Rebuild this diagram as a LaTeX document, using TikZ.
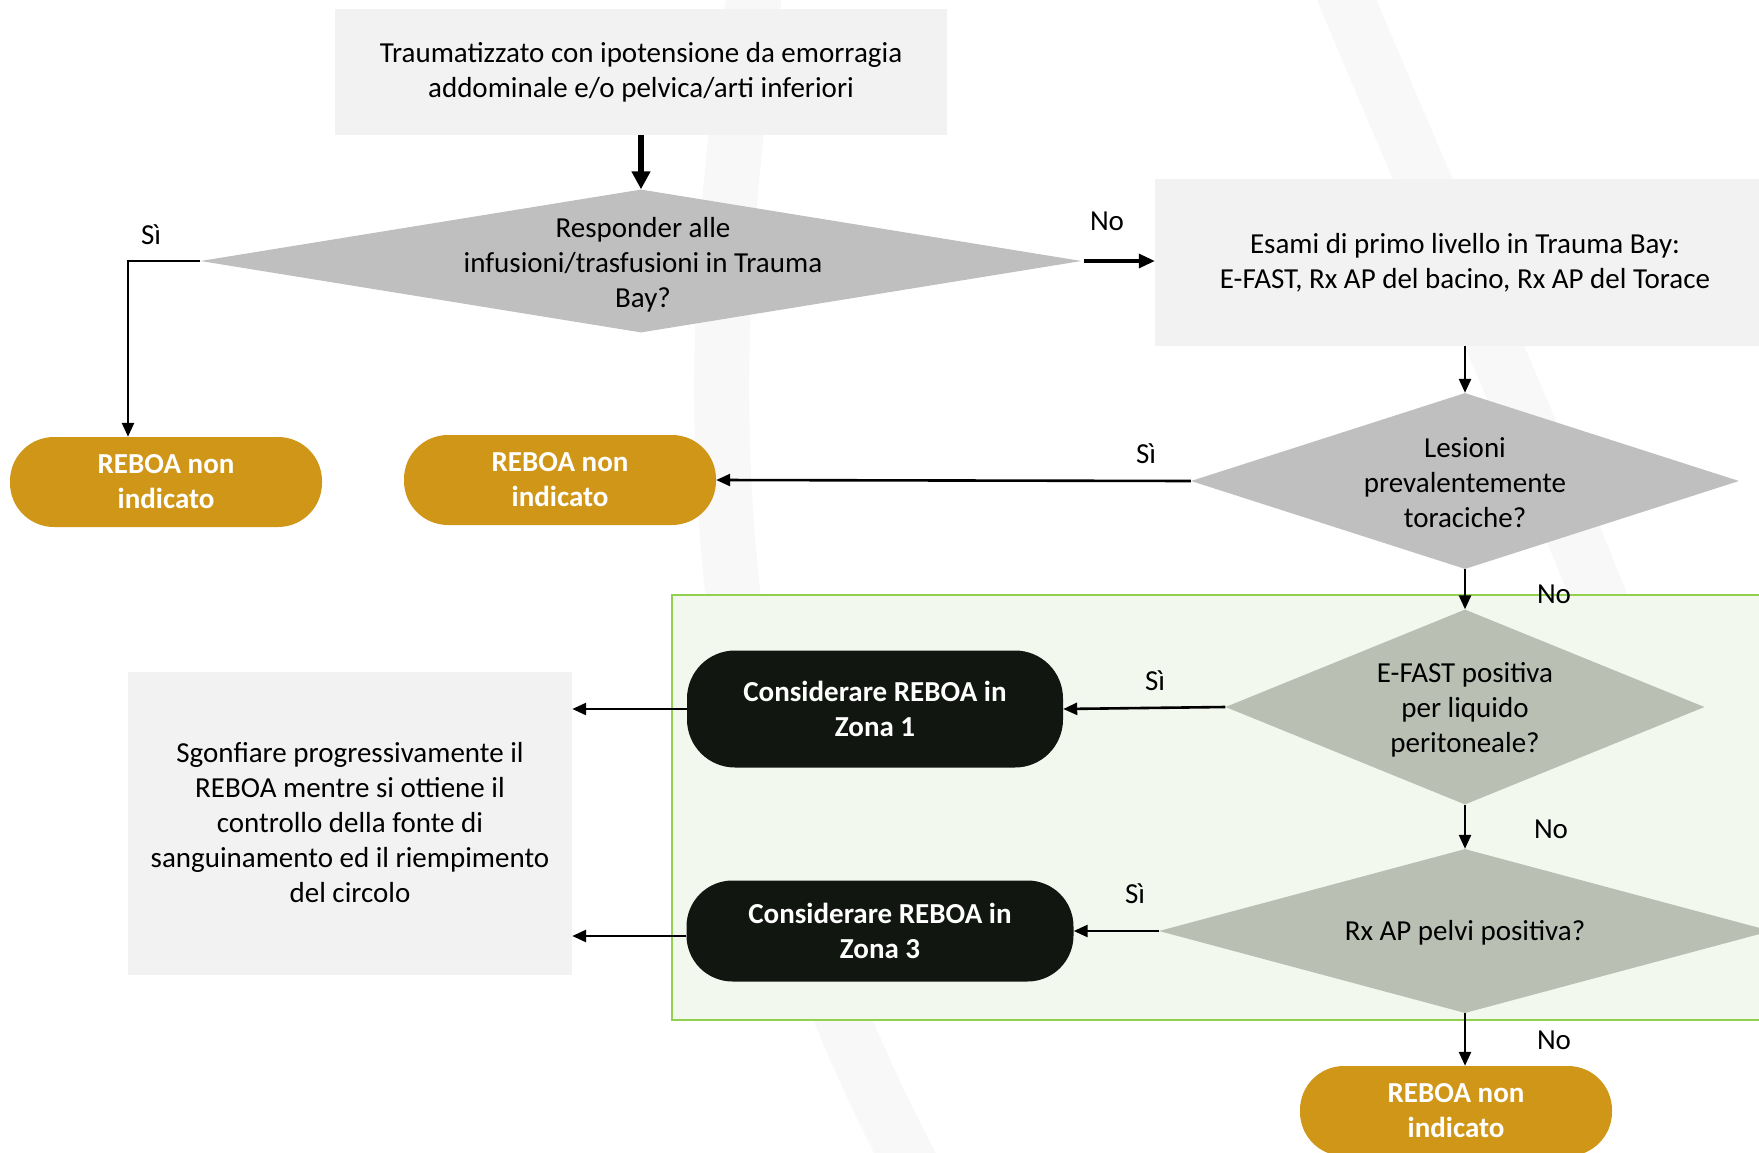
\documentclass[tikz,border=0pt]{standalone}
\usepackage{fontspec}
\setmainfont{Carlito}
\usetikzlibrary{arrows.meta,shapes.geometric}
\definecolor{boxgray}{HTML}{F2F2F2}
\definecolor{dgray}{HTML}{BFBFBF}
\definecolor{dgreen}{HTML}{BABFB4}
\definecolor{gold}{HTML}{D09618}
\definecolor{pillblack}{HTML}{111710}
\definecolor{greenline}{HTML}{92D050}
\definecolor{greenfill}{HTML}{F3F8EF}
\definecolor{wmark}{HTML}{F8F8F8}
\begin{document}
\begin{tikzpicture}[x=1pt,y=-1pt,
  txt/.style={font=\fontsize{29}{35}\selectfont, align=center, inner sep=0pt},
  graybox/.style={txt, fill=boxgray},
  decision/.style={diamond, inner sep=0pt, draw=none},
  goldpill/.style={txt, fill=gold, text=white, font=\fontsize{29}{35}\selectfont\bfseries, rounded corners=44pt},
  blackpill/.style={txt, fill=pillblack, text=white, font=\fontsize{29}{35}\selectfont\bfseries, rounded corners=48pt},
  lbl/.style={txt},
  thin/.style={line width=2.6pt, -{Triangle[length=14pt,width=12pt]}},
  midarrow/.style={line width=3.2pt, -{Triangle[length=16pt,width=14pt]}},
  thick/.style={line width=6pt, -{Triangle[length=18pt,width=18pt]}},
  wm/.style={draw=wmark, line width=55pt, line cap=round}
]
\useasboundingbox (0,0) rectangle (1759,1153);
% watermark
\draw[wm] (760,-40) .. controls (680,450) and (720,820) .. (930,1200);
\draw[wm] (1330,-40) .. controls (1430,200) and (1520,400) .. (1600,600);
% green region
\draw[greenline, fill=greenfill, line width=2.5pt] (672,595) rectangle (1775,1020);

% nodes
\node[graybox, minimum width=612pt, minimum height=126pt] (start) at (641,72)
  {Traumatizzato con ipotensione da emorragia\\addominale e/o pelvica/arti inferiori};

\node[decision, fill=dgray, minimum width=881pt, minimum height=143pt] (d1) at (641,261) {};
\node[txt] (d1t) at (643,264.5) {Responder alle\\infusioni/trasfusioni in Trauma\\Bay?};

\node[graybox, minimum width=620pt, minimum height=167pt] (exams) at (1465,262.5)
  {Esami di primo livello in Trauma Bay:\\E-FAST, Rx AP del bacino, Rx AP del Torace};

\node[goldpill, minimum width=312pt, minimum height=90pt] (p1) at (166,482) {REBOA non\\indicato};
\node[goldpill, minimum width=312pt, minimum height=90pt] (p2) at (560,480) {REBOA non\\indicato};

\node[decision, fill=dgray, minimum width=548pt, minimum height=176pt] (d2) at (1465,481) {};
\node[txt] (d2t) at (1465,483) {Lesioni\\prevalentemente\\toraciche?};

\node[decision, fill=dgreen, minimum width=479pt, minimum height=195pt] (d3) at (1465,707) {};
\node[txt] (d3t) at (1465,710) {E-FAST positiva\\per liquido\\peritoneale?};

\node[blackpill, minimum width=376pt, minimum height=117pt] (z1) at (875,709) {Considerare REBOA in\\Zona 1};

\node[decision, fill=dgreen, minimum width=612pt, minimum height=164pt] (d4) at (1465,931) {};
\node[txt] (d4t) at (1465,933) {Rx AP pelvi positiva?};

\node[blackpill, minimum width=387pt, minimum height=101pt, rounded corners=46pt] (z3) at (880,931) {Considerare REBOA in\\Zona 3};

\node[graybox, minimum width=444pt, minimum height=303pt] (deflate) at (350,823)
  {Sgonfiare progressivamente il\\REBOA mentre si ottiene il\\controllo della fonte di\\sanguinamento ed il riempimento\\del circolo};

\node[goldpill, minimum width=312pt, minimum height=90pt] (p4) at (1456,1111) {REBOA non\\indicato};

% connectors
\draw[thick] (start.south) -- (d1.north);
\draw[thin] (d1.west) -| ([xshift=-38pt]p1.north);
\draw[midarrow] ([xshift=2pt]d1.east) -- (exams.west |- d1.east);
\draw[thin] (exams.south) -- (d2.north);
\draw[thin] (d2.west) -- (p2.east);
\draw[thin] (d2.south) -- (d3.north);
\draw[thin] (d3.west) -- (z1.east);
\draw[thin] (z1.west) -- (z1.west -| deflate.east);
\draw[thin] (d3.south) -- (d4.north);
\draw[thin] (d4.west) -- (z3.east);
\draw[thin] ([yshift=-5pt]z3.west) -- ([yshift=-5pt]z3.west -| deflate.east);
\draw[thin] (d4.south) -- (d4.south |- p4.north);

% labels
\node[lbl] (l1) at (151,235) {Sì};
\node[lbl] (l2) at (1107,221) {No};
\node[lbl] (l3) at (1146,454) {Sì};
\node[lbl] (l4) at (1554,594) {No};
\node[lbl] (l5) at (1155,681) {Sì};
\node[lbl] (l6) at (1551,829) {No};
\node[lbl] (l7) at (1135,894) {Sì};
\node[lbl] (l8) at (1554,1040) {No};
\end{tikzpicture}
\end{document}
